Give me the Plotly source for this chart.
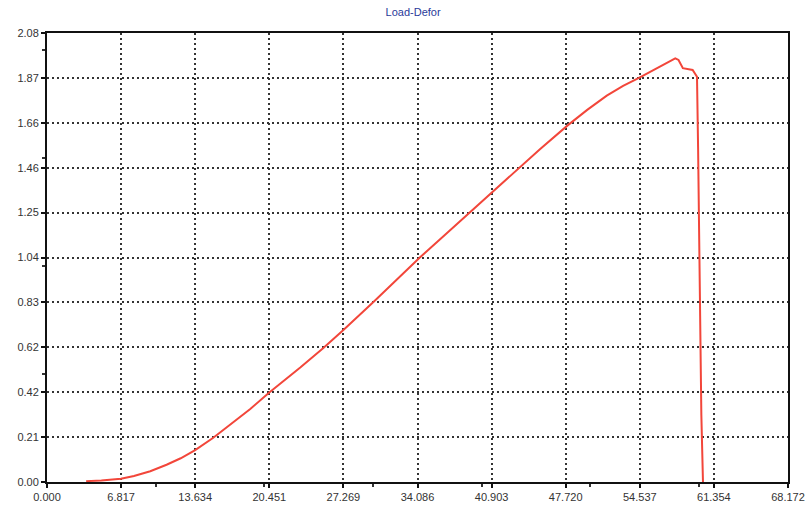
import plotly.graph_objects as go

x_vals = [3.6, 5.0, 6.8, 8.0, 9.5, 11.0, 12.3, 13.63, 15.3, 17.5, 18.7, 20.45, 23.3,
          25.4, 27.27, 30.08, 32.2, 34.3, 36.6, 38.9, 40.9, 43.8, 45.35, 47.9, 49.7,
          51.5, 53.0, 54.46, 56.4, 57.2, 57.8, 58.1, 58.5, 59.4, 59.8, 59.9, 60.05,
          60.2, 60.35]
y_vals = [0.004, 0.007, 0.015, 0.028, 0.05, 0.08, 0.11, 0.148, 0.205, 0.29, 0.338, 0.415, 0.53,
          0.62, 0.704, 0.836, 0.937, 1.04, 1.144, 1.248, 1.339, 1.468, 1.542, 1.652, 1.724,
          1.79, 1.835, 1.872, 1.924, 1.945, 1.963, 1.955, 1.917, 1.909, 1.877, 1.55, 0.93,
          0.31, 0.0]

x_tick_vals = [0.0, 6.8172, 13.6344, 20.4516, 27.2688, 34.086, 40.9032, 47.7204, 54.5376, 61.3548, 68.172]
x_tick_text = ["0.000", "6.817", "13.634", "20.451", "27.269", "34.086", "40.903", "47.720", "54.537", "61.354", "68.172"]
y_tick_vals = [0.0, 0.208, 0.416, 0.624, 0.832, 1.04, 1.248, 1.456, 1.664, 1.872, 2.08]
y_tick_text = ["0.00", "0.21", "0.42", "0.62", "0.83", "1.04", "1.25", "1.46", "1.66", "1.87", "2.08"]

fig = go.Figure()
fig.add_trace(go.Scatter(x=x_vals, y=y_vals, mode="lines",
                         line=dict(color="#f2463a", width=2), showlegend=False))

axis_common = dict(
    showgrid=True, gridcolor="#333333", gridwidth=1.5, griddash="2px,3px",
    showline=True, linecolor="#111111", linewidth=2, mirror=True,
    ticks="outside", ticklen=4, tickcolor="#111111", tickwidth=1.5,
    tickfont=dict(family="Liberation Sans, Arial", size=11, color="#333333"),
    zeroline=False, automargin=False,
    minor=dict(ticks="outside", ticklen=3, tickcolor="#333333", tickwidth=1.5, nticks=2, showgrid=False),
)

fig.update_xaxes(range=[0, 68.172], tickvals=x_tick_vals, ticktext=x_tick_text, **axis_common)
fig.update_yaxes(range=[0, 2.08], tickvals=y_tick_vals, ticktext=y_tick_text, **axis_common)

fig.update_layout(
    width=810, height=509,
    margin=dict(l=47, r=22, t=33, b=27),
    paper_bgcolor="white", plot_bgcolor="white",
    title=dict(text="Load-Defor", x=0.51, xanchor="center", y=0.976, yanchor="middle",
               yref="container",
               font=dict(family="Liberation Sans, Arial", size=11, color="#2a3a9a")),
)

fig.write_html("out.html")
